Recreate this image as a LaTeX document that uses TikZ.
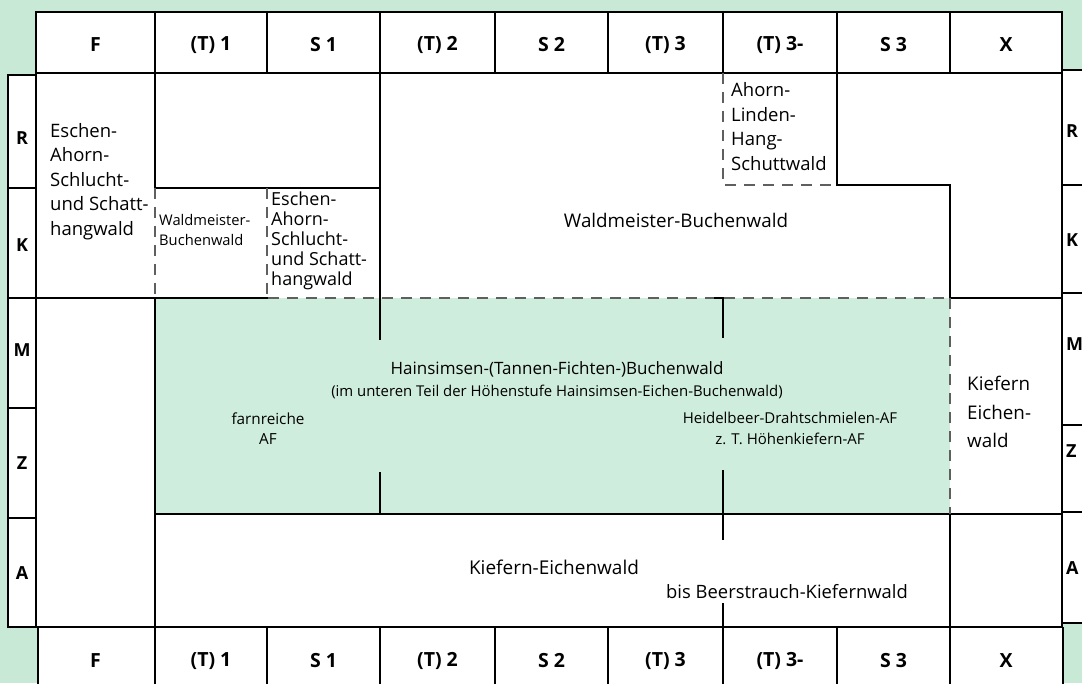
\documentclass[tikz,border=0pt]{standalone}
\usepackage{fontspec}
\setmainfont{Open Sans}
\usepackage{tikz}
\usetikzlibrary{positioning}
\definecolor{mintbg}{RGB}{200,233,214}
\definecolor{mintfill}{RGB}{207,237,221}
\definecolor{dashgray}{RGB}{95,95,95}

\begin{document}
\begin{tikzpicture}[x=1pt, y=-1pt,
		frame/.style={line width=2.9pt},
		thinline/.style={line width=1.5pt},
		dashline/.style={dashgray, line width=1.9pt, dash pattern=on 11pt off 8pt},
		hdr/.style={font=\bfseries\fontsize{19.5}{19.5}\selectfont, inner sep=0pt},
		rowlbl/.style={font=\bfseries\fontsize{18}{18}\selectfont, inner sep=0pt},
		txt/.style={font=\fontsize{18.5}{24.5}\selectfont, align=left, inner sep=0pt, anchor=north west},
		ctxt/.style={font=\fontsize{18.8}{20}\selectfont, align=center, inner sep=0pt}]
				\useasboundingbox (0,0) rectangle (1082,683);
				\clip (0,0) rectangle (1082,683);
				\fill[mintbg] (0,0) rectangle (1082,683);
				
				% white areas
				\fill[white] (36,12) rectangle (1062,73);
				\fill[white] (36,73) rectangle (1062,627);
				\fill[white] (8,75) rectangle (36,627);
				\fill[white] (1062,70) rectangle (1100,623);
				\fill[white] (38,627) rectangle (1063,700);
				\fill[mintfill] (155,298) rectangle (950,514);
				
				% head and foot rows
				\draw[frame] (36,73) -- (36,12) -- (1062,12) -- (1062,627);
				\draw[frame] (36,73) -- (1062,73);
				\draw[frame] (38,627) -- (1063,627);
				\draw[frame] (38,627) -- (38,700);
				\draw[frame] (1063,627) -- (1063,700);
				\foreach \x in {155,267,380,495,608,723,837,950}
				{
					\draw[frame] (\x,12) -- (\x,73);
					\draw[frame] (\x,627) -- (\x,700);
				}
				\foreach \x/\lab [count=\i] in {95.5/F, 211/(T) 1, 323.5/S 1, 437.5/(T) 2, 551.5/S 2, 665.5/(T) 3, 780/(T) 3-, 893.5/S 3, 1006/X}
				{
					\node[hdr] (top\i) at (\x,45) {\lab};
					\node[hdr] (bot\i) at (\x,661) {\lab};
				}
				
				% side columns
				\draw[frame] (36,75) -- (8,75) -- (8,627) -- (38,627);
				\draw[frame] (36,73) -- (36,627);
				\foreach \y in {188,298,408,518}
					\draw[frame] (8,\y) -- (36,\y);
				\draw[frame] (1062,70) -- (1100,70);
				\foreach \y in {185,293,425,512,623}
					\draw[frame] (1062,\y) -- (1100,\y);
				\foreach \lab/\y in {R/138, K/245, M/350, Z/463, A/573}
					\node[rowlbl] (left\lab) at (22,\y) {\lab};
				\foreach \lab/\y in {R/131, K/240, M/344, Z/451, A/568}
					\node[rowlbl, anchor=west] (right\lab) at (1066,\y) {\lab};
				
				% inner borders
				\draw[frame] (155,73) -- (155,188) -- (380,188);
				\draw[frame] (380,73) -- (380,298);
				\draw[dashline] (155,188) -- (155,298);
				\draw[dashline] (267,188) -- (267,298);
				\draw[frame] (36,298) -- (268,298);
				\draw[dashline] (268,298) -- (950,298);
				\draw[frame] (950,298) -- (1062,298);
				\draw[frame] (155,298) -- (155,627);
				\draw[frame] (155,514) -- (1062,514);
				\draw[frame] (837,73) -- (837,185) -- (950,185) -- (950,298);
				\draw[dashline] (950,298) -- (950,514);
				\draw[frame] (950,514) -- (950,627);
				\draw[dashline] (723,73) -- (723,185) -- (837,185);
				
				% thin marks
				\draw[thinline] (380,298) -- (380,340);
				\draw[thinline] (380,472) -- (380,514);
				\draw[thinline] (714,298) -| (723,338);
				\draw[thinline] (723,470) -- (723,540);
				\draw[thinline] (723,603) -- (723,627);
				
				% labels
				\node[txt] (eschenF) at (50,123) {Eschen-\\Ahorn-\\Schlucht-\\und Schatt-\\hangwald};
				\node[txt, font=\fontsize{18}{19.8}\selectfont] (eschenS) at (271,192) {Eschen-\\Ahorn-\\Schlucht-\\und Schatt-\\hangwald};
				\node[txt, font=\fontsize{14.7}{20}\selectfont] (waldK) at (159,214) {Waldmeister-\\Buchenwald};
				\node[txt, font=\fontsize{18.5}{24.8}\selectfont] (ahorn) at (731,82) {Ahorn-\\Linden-\\Hang-\\Schuttwald};
				\node[ctxt] (waldmeister) at (676,220) {Waldmeister-Buchenwald};
				\node[ctxt, font=\fontsize{17}{20}\selectfont] (hainsimsen) at (557,369) {Hainsimsen-(Tannen-Fichten-)Buchenwald};
				\node[ctxt, font=\fontsize{14.9}{20}\selectfont] (unterteil) at (557,392) {(im unteren Teil der Höhenstufe Hainsimsen-Eichen-Buchenwald)};
				\node[ctxt, font=\fontsize{15.3}{20}\selectfont] (farn) at (268,429) {farnreiche\\AF};
				\node[ctxt, font=\fontsize{15}{21}\selectfont] (heidel) at (790,428) {Heidelbeer-Drahtschmielen-AF\\z. T. Höhenkiefern-AF};
				\node[txt, font=\fontsize{18.8}{28.5}\selectfont] (kiefernX) at (967,376) {Kiefern\\Eichen-\\wald};
				\node[ctxt, font=\fontsize{19}{20}\selectfont] (kiefernA) at (554,567) {Kiefern-Eichenwald};
				\node[ctxt, font=\fontsize{18.4}{20}\selectfont] (beer) at (787,592) {bis Beerstrauch-Kiefernwald};
\end{tikzpicture}
\end{document}
